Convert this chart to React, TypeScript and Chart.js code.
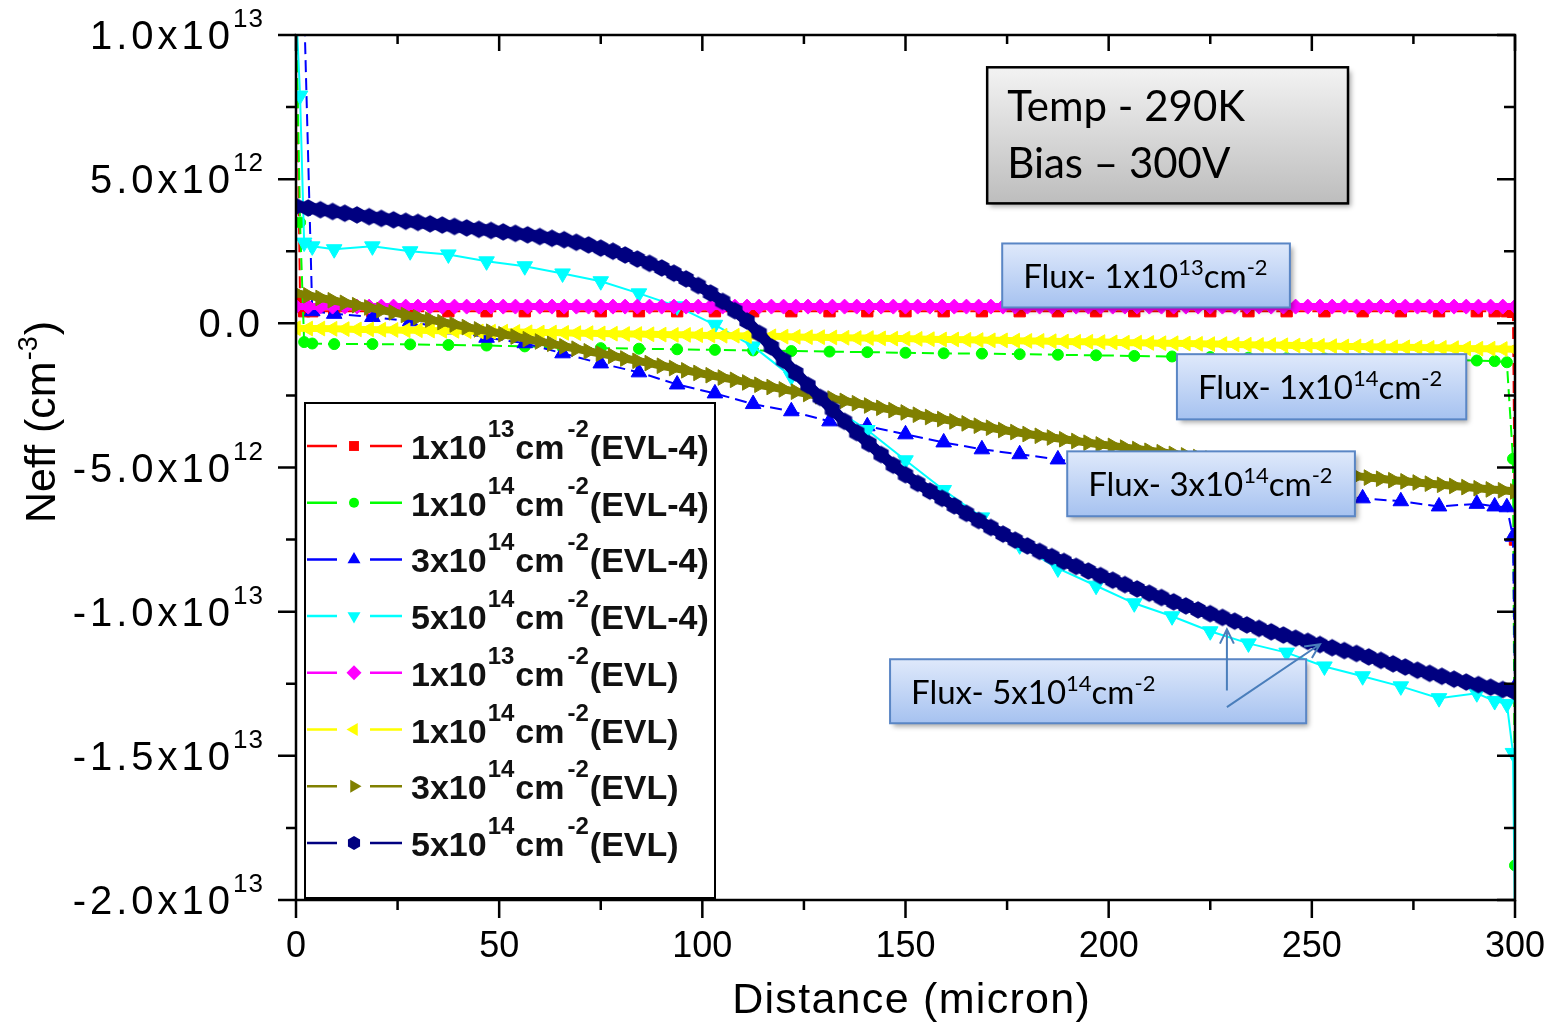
import React, { useEffect, useRef } from 'react';
import { Chart, registerables } from 'chart.js';

Chart.register(...registerables);

const WIDTH = 1555;
const HEIGHT = 1023;

// Neff values are stored in units of 1e12 cm^-3.

// Distance mesh (micron) of the EVL-4 simulations
const xEvl4 = [
  0, 1, 2, 4, 9.4, 18.8, 28.1, 37.5, 46.9, 56.3,
  65.6, 75, 84.4, 93.8, 103.1, 112.5, 121.9, 131.3, 140.6, 150,
  159.4, 168.8, 178.1, 187.5, 196.9, 206.3, 215.6, 225, 234.4, 243.8,
  253.1, 262.5, 271.9, 281.3, 290.6, 295, 298, 299.5, 300,
];

const neffEvl4Flux1e13 = [
  11, 0.8, 0.42, 0.42, 0.42, 0.42, 0.42, 0.42, 0.42, 0.42,
  0.42, 0.42, 0.42, 0.42, 0.42, 0.42, 0.42, 0.42, 0.42, 0.42,
  0.42, 0.42, 0.42, 0.42, 0.42, 0.42, 0.42, 0.42, 0.42, 0.42,
  0.42, 0.42, 0.42, 0.42, 0.42, 0.42, 0.42, 0.40, -7.5,
];

const neffEvl4Flux1e14 = [
  11, 3.5, -0.65, -0.70, -0.72, -0.72, -0.73, -0.75, -0.77, -0.80,
  -0.84, -0.86, -0.88, -0.90, -0.92, -0.94, -0.96, -0.98, -1.00, -1.02,
  -1.04, -1.05, -1.07, -1.09, -1.11, -1.13, -1.15, -1.17, -1.19, -1.21,
  -1.22, -1.24, -1.26, -1.27, -1.29, -1.31, -1.35, -4.7, -18.8,
];

const neffEvl4Flux3e14: (number | null)[] = [
  null, null, 11, 0.42, 0.33, 0.22, 0.07, -0.21, -0.50, -0.69,
  -1.04, -1.39, -1.70, -2.12, -2.43, -2.80, -3.05, -3.40, -3.57, -3.85,
  -4.13, -4.37, -4.54, -4.72, -4.90, -5.08, -5.26, -5.43, -5.60, -5.76,
  -5.92, -6.07, -6.17, -6.35, -6.26, -6.35, -6.38, -7.4, -12.6,
];

const neffEvl4Flux5e14 = [
  11, 7.9, 2.8, 2.67, 2.57, 2.67, 2.50, 2.39, 2.15, 1.98,
  1.73, 1.46, 1.04, 0.59, -0.05, -0.80, -1.84, -2.85, -3.70, -4.75,
  -5.78, -6.73, -7.70, -8.50, -9.10, -9.71, -10.16, -10.68, -11.10, -11.42,
  -11.90, -12.24, -12.59, -13.00, -12.83, -13.10, -13.20, -14.9, -21,
];

// Distance mesh (micron) of the EVL simulations
const xEvl = [
  0, 3, 6, 9, 12, 15, 18, 21, 24, 27,
  30, 33, 36, 39, 42, 45, 48, 51, 54, 57,
  60, 63, 66, 69, 72, 75, 78, 81, 84, 87,
  90, 93, 96, 99, 102, 105, 108, 111, 114, 117,
  120, 123, 126, 129, 132, 135, 138, 141, 144, 147,
  150, 153, 156, 159, 162, 165, 168, 171, 174, 177,
  180, 183, 186, 189, 192, 195, 198, 201, 204, 207,
  210, 213, 216, 219, 222, 225, 228, 231, 234, 237,
  240, 243, 246, 249, 252, 255, 258, 261, 264, 267,
  270, 273, 276, 279, 282, 285, 288, 291, 294, 297,
  300,
];

const neffEvlFlux1e13 = [
  0.58, 0.58, 0.58, 0.58, 0.58, 0.58, 0.58, 0.58, 0.58, 0.58,
  0.58, 0.58, 0.58, 0.58, 0.58, 0.58, 0.58, 0.58, 0.58, 0.58,
  0.58, 0.58, 0.58, 0.58, 0.58, 0.58, 0.58, 0.58, 0.58, 0.58,
  0.58, 0.58, 0.58, 0.58, 0.58, 0.58, 0.58, 0.58, 0.58, 0.58,
  0.58, 0.58, 0.58, 0.58, 0.58, 0.58, 0.58, 0.58, 0.58, 0.58,
  0.58, 0.58, 0.58, 0.58, 0.58, 0.58, 0.58, 0.58, 0.58, 0.58,
  0.58, 0.58, 0.58, 0.58, 0.58, 0.58, 0.58, 0.58, 0.58, 0.58,
  0.58, 0.58, 0.58, 0.58, 0.58, 0.58, 0.58, 0.58, 0.58, 0.58,
  0.58, 0.58, 0.58, 0.58, 0.58, 0.58, 0.58, 0.58, 0.58, 0.58,
  0.58, 0.58, 0.58, 0.58, 0.58, 0.58, 0.58, 0.58, 0.58, 0.58,
  0.58,
];

const neffEvlFlux1e14 = [
  -0.17, -0.18, -0.18, -0.19, -0.20, -0.21, -0.21, -0.22, -0.23, -0.24,
  -0.24, -0.25, -0.26, -0.26, -0.27, -0.28, -0.29, -0.29, -0.30, -0.31,
  -0.32, -0.32, -0.33, -0.34, -0.34, -0.35, -0.36, -0.37, -0.37, -0.38,
  -0.39, -0.40, -0.40, -0.41, -0.42, -0.43, -0.43, -0.44, -0.45, -0.45,
  -0.46, -0.47, -0.48, -0.48, -0.49, -0.50, -0.51, -0.51, -0.52, -0.53,
  -0.53, -0.54, -0.55, -0.56, -0.56, -0.57, -0.58, -0.59, -0.59, -0.60,
  -0.61, -0.61, -0.62, -0.63, -0.64, -0.64, -0.65, -0.66, -0.67, -0.67,
  -0.68, -0.69, -0.69, -0.70, -0.71, -0.72, -0.72, -0.73, -0.74, -0.75,
  -0.75, -0.76, -0.77, -0.77, -0.78, -0.79, -0.80, -0.80, -0.81, -0.82,
  -0.83, -0.83, -0.84, -0.85, -0.85, -0.86, -0.87, -0.88, -0.88, -0.89,
  -0.90,
];

const neffEvlFlux3e14 = [
  1.05, 0.97, 0.88, 0.80, 0.71, 0.63, 0.55, 0.46, 0.38, 0.29,
  0.21, 0.13, 0.04, -0.04, -0.13, -0.21, -0.29, -0.38, -0.46, -0.55,
  -0.63, -0.71, -0.80, -0.88, -0.97, -1.05, -1.13, -1.22, -1.30, -1.38,
  -1.47, -1.55, -1.63, -1.72, -1.80, -1.88, -1.96, -2.05, -2.13, -2.21,
  -2.29, -2.37, -2.45, -2.53, -2.61, -2.69, -2.77, -2.85, -2.93, -3.01,
  -3.09, -3.17, -3.25, -3.32, -3.40, -3.47, -3.55, -3.62, -3.70, -3.77,
  -3.84, -3.90, -3.96, -4.02, -4.08, -4.14, -4.20, -4.25, -4.31, -4.36,
  -4.42, -4.47, -4.53, -4.58, -4.64, -4.69, -4.74, -4.80, -4.85, -4.90,
  -4.95, -5.01, -5.06, -5.11, -5.16, -5.21, -5.26, -5.30, -5.35, -5.39,
  -5.44, -5.48, -5.52, -5.56, -5.60, -5.64, -5.68, -5.72, -5.76, -5.79,
  -5.83,
];

const neffEvlFlux5e14 = [
  4.06, 4.00, 3.94, 3.88, 3.82, 3.76, 3.70, 3.64, 3.59, 3.54,
  3.50, 3.45, 3.41, 3.36, 3.31, 3.26, 3.22, 3.17, 3.12, 3.07,
  3.01, 2.95, 2.90, 2.81, 2.72, 2.61, 2.50, 2.37, 2.23, 2.08,
  1.92, 1.74, 1.54, 1.31, 1.05, 0.76, 0.44, 0.08, -0.35, -0.82,
  -1.28, -1.72, -2.15, -2.57, -2.99, -3.40, -3.79, -4.17, -4.55, -4.92,
  -5.25, -5.55, -5.82, -6.07, -6.33, -6.59, -6.84, -7.08, -7.31, -7.52,
  -7.72, -7.91, -8.09, -8.26, -8.43, -8.59, -8.75, -8.91, -9.06, -9.21,
  -9.36, -9.51, -9.66, -9.80, -9.94, -10.07, -10.20, -10.33, -10.46, -10.58,
  -10.70, -10.81, -10.92, -11.03, -11.14, -11.25, -11.35, -11.45, -11.57, -11.69,
  -11.81, -11.92, -12.03, -12.14, -12.24, -12.34, -12.44, -12.53, -12.62, -12.70,
  -12.78,
];

// Legend text pieces: fluence mantissa, exponent, model
const fluenceBases = ['1x10', '1x10', '3x10', '5x10', '1x10', '1x10', '3x10', '5x10'];
const fluenceExps = ['13', '14', '14', '14', '13', '14', '14', '14'];
const modelNames = ['EVL-4', 'EVL-4', 'EVL-4', 'EVL-4', 'EVL', 'EVL', 'EVL', 'EVL'];

// Axis ticks
const xMajorTicks = [0, 50, 100, 150, 200, 250, 300];
const xMinorTicks = [25, 75, 125, 175, 225, 275];
const yMajorTicks = [10, 5, 0, -5, -10, -15, -20];
const yMinorTicks = [7.5, 2.5, -2.5, -7.5, -12.5, -17.5];
const yTickMantissas = ['1.0x10', '5.0x10', '0.0', '-5.0x10', '-1.0x10', '-1.5x10', '-2.0x10'];
const yTickExponents = ['13', '12', '', '12', '13', '13', '13'];

// Text boxes placed in data coordinates
const conditionLines = ['Temp - 290K', 'Bias \u2013 300V'];
const conditionBox = { x0: 170.1, x1: 258.9, y0: 8.88, y1: 4.16 };
const fluxNotes = [
  { base: '1x10', exp: '13', x0: 173.8, x1: 244.6, y0: 2.77, y1: 0.55 },
  { base: '1x10', exp: '14', x0: 216.8, x1: 288.0, y0: -1.07, y1: -3.33 },
  { base: '3x10', exp: '14', x0: 189.8, x1: 260.6, y0: -4.44, y1: -6.69 },
  { base: '5x10', exp: '14', x0: 146.2, x1: 248.6, y0: -11.65, y1: -13.87 },
];
const fluxArrows = [
  { from: [229.1, -12.73], to: [229.1, -10.61] },
  { from: [229.1, -13.31], to: [252.0, -11.13] },
];

const AXIS_FONT = '"Liberation Sans", Arial, sans-serif';
const NOTE_FONT = 'Lato, "Open Sans", sans-serif';

type Marker = 'rect' | 'circle' | 'triangle' | 'rectRot' | 'hex';

interface SeriesDef {
  xs: number[];
  ys: (number | null)[];
  color: string;
  marker: Marker;
  rotation: number;
  radius: number;
  lineWidth: number;
  dashed: boolean;
  order: number;
}

const SERIES: SeriesDef[] = [
  { xs: xEvl4, ys: neffEvl4Flux1e13, color: '#ff0000', marker: 'rect', rotation: 0, radius: 8, lineWidth: 2, dashed: true, order: 8 },
  { xs: xEvl4, ys: neffEvl4Flux1e14, color: '#00ff00', marker: 'circle', rotation: 0, radius: 5.5, lineWidth: 2, dashed: true, order: 7 },
  { xs: xEvl4, ys: neffEvl4Flux3e14, color: '#0000ff', marker: 'triangle', rotation: 0, radius: 9, lineWidth: 2, dashed: true, order: 6 },
  { xs: xEvl4, ys: neffEvl4Flux5e14, color: '#00ffff', marker: 'triangle', rotation: 180, radius: 9, lineWidth: 2, dashed: false, order: 5 },
  { xs: xEvl, ys: neffEvlFlux1e13, color: '#ff00ff', marker: 'rectRot', rotation: 0, radius: 7.5, lineWidth: 7, dashed: false, order: 4 },
  { xs: xEvl, ys: neffEvlFlux1e14, color: '#ffff00', marker: 'triangle', rotation: -90, radius: 8.5, lineWidth: 7, dashed: false, order: 3 },
  { xs: xEvl, ys: neffEvlFlux3e14, color: '#808000', marker: 'triangle', rotation: 90, radius: 9, lineWidth: 8, dashed: false, order: 2 },
  { xs: xEvl, ys: neffEvlFlux5e14, color: '#000080', marker: 'hex', rotation: 0, radius: 8.5, lineWidth: 11, dashed: false, order: 1 },
];

function shapePath(ctx: CanvasRenderingContext2D, marker: Marker, cx: number, cy: number, r: number, rotation: number) {
  ctx.save();
  ctx.translate(cx, cy);
  ctx.rotate((rotation * Math.PI) / 180);
  ctx.beginPath();
  if (marker === 'rect') {
    const s = r * Math.SQRT1_2;
    ctx.rect(-s, -s, 2 * s, 2 * s);
  } else if (marker === 'circle') {
    ctx.arc(0, 0, r, 0, Math.PI * 2);
  } else if (marker === 'triangle') {
    ctx.moveTo(0, -r);
    ctx.lineTo(r * 0.866, r * 0.5);
    ctx.lineTo(-r * 0.866, r * 0.5);
    ctx.closePath();
  } else if (marker === 'rectRot') {
    ctx.moveTo(0, -r);
    ctx.lineTo(r, 0);
    ctx.lineTo(0, r);
    ctx.lineTo(-r, 0);
    ctx.closePath();
  } else {
    for (let k = 0; k < 6; k++) {
      const a = -Math.PI / 2 + (k * Math.PI) / 3;
      if (k === 0) ctx.moveTo(r * Math.cos(a), r * Math.sin(a));
      else ctx.lineTo(r * Math.cos(a), r * Math.sin(a));
    }
    ctx.closePath();
  }
  ctx.restore();
}

function spacedWidth(ctx: CanvasRenderingContext2D, text: string, font: string, spacing = 0) {
  ctx.font = font;
  if (!spacing) return ctx.measureText(text).width;
  let w = 0;
  for (const ch of text) w += ctx.measureText(ch).width + spacing;
  return w - spacing;
}

function spacedText(ctx: CanvasRenderingContext2D, text: string, x: number, y: number, font: string, spacing = 0) {
  ctx.font = font;
  if (!spacing) {
    ctx.fillText(text, x, y);
    return ctx.measureText(text).width;
  }
  let cx = x;
  for (const ch of text) {
    ctx.fillText(ch, cx, y);
    cx += ctx.measureText(ch).width + spacing;
  }
  return cx - x - spacing;
}

function panel(ctx: CanvasRenderingContext2D, x0: number, y0: number, x1: number, y1: number, top: string, bottom: string, border: string, bw: number) {
  ctx.save();
  ctx.shadowColor = 'rgba(0,0,0,0.35)';
  ctx.shadowBlur = 5;
  ctx.shadowOffsetX = 3;
  ctx.shadowOffsetY = 4;
  const g = ctx.createLinearGradient(0, y0, 0, y1);
  g.addColorStop(0, top);
  g.addColorStop(1, bottom);
  ctx.fillStyle = g;
  ctx.fillRect(x0, y0, x1 - x0, y1 - y0);
  ctx.restore();
  ctx.save();
  ctx.strokeStyle = border;
  ctx.lineWidth = bw;
  ctx.strokeRect(x0, y0, x1 - x0, y1 - y0);
  ctx.restore();
}

const overlayPlugin = {
  id: 'neffOverlay',
  afterDatasetsDraw(chart: any) {
    const ctx: CanvasRenderingContext2D = chart.ctx;
    const a = chart.chartArea;
    const xs = chart.scales.x;
    const ys = chart.scales.y;
    ctx.save();
    ctx.textAlign = 'left';
    ctx.textBaseline = 'alphabetic';

    // Legend box
    const leg = { left: 305, top: 403, right: 715, bottom: 898 };
    ctx.fillStyle = '#ffffff';
    ctx.fillRect(leg.left, leg.top, leg.right - leg.left, leg.bottom - leg.top);
    ctx.strokeStyle = '#000';
    ctx.lineWidth = 2;
    ctx.strokeRect(leg.left, leg.top, leg.right - leg.left, leg.bottom - leg.top);
    const bold = `bold 34px ${AXIS_FONT}`;
    const boldSup = `bold 24px ${AXIS_FONT}`;
    SERIES.forEach((s, i) => {
      const ry = 446 + i * 56.7;
      ctx.strokeStyle = s.color;
      ctx.lineWidth = 2.5;
      ctx.beginPath();
      ctx.moveTo(307, ry);
      ctx.lineTo(337, ry);
      ctx.moveTo(370, ry);
      ctx.lineTo(402, ry);
      ctx.stroke();
      ctx.fillStyle = s.color;
      const lr = s.marker === 'circle' ? 5 : s.marker === 'rect' ? 7 : s.marker === 'hex' ? 7 : 7.5;
      shapePath(ctx, s.marker, 354, ry, lr, s.rotation);
      ctx.fill();
      ctx.fillStyle = '#111';
      let x = 411;
      x += spacedText(ctx, fluenceBases[i], x, ry + 13, bold) + 1;
      x += spacedText(ctx, fluenceExps[i], x, ry - 9, boldSup) + 1;
      x += spacedText(ctx, 'cm', x, ry + 13, bold) + 3;
      x += spacedText(ctx, '-2', x, ry - 9, boldSup) + 1;
      spacedText(ctx, `(${modelNames[i]})`, x, ry + 13, bold);
    });

    // Frame
    ctx.strokeStyle = '#000';
    ctx.lineWidth = 2.5;
    ctx.strokeRect(a.left, a.top, a.right - a.left, a.bottom - a.top);
    ctx.beginPath();
    const tick = (px: number, py: number, dx: number, dy: number) => {
      ctx.moveTo(px, py);
      ctx.lineTo(px + dx, py + dy);
    };
    yMajorTicks.forEach((v) => {
      const py = ys.getPixelForValue(v);
      tick(a.left, py, -18, 0);
      tick(a.right, py, -18, 0);
    });
    yMinorTicks.forEach((v) => {
      const py = ys.getPixelForValue(v);
      tick(a.left, py, -10, 0);
      tick(a.right, py, -11, 0);
    });
    xMajorTicks.forEach((v) => {
      const px = xs.getPixelForValue(v);
      tick(px, a.bottom, 0, 18);
      tick(px, a.top, 0, 16);
    });
    xMinorTicks.forEach((v) => {
      const px = xs.getPixelForValue(v);
      tick(px, a.bottom, 0, 10);
      tick(px, a.top, 0, 9);
    });
    ctx.stroke();

    // Tick labels
    ctx.fillStyle = '#000';
    const tickFont = `40px ${AXIS_FONT}`;
    const supFont = `26px ${AXIS_FONT}`;
    yMajorTicks.forEach((v, i) => {
      const py = ys.getPixelForValue(v);
      const main = yTickMantissas[i];
      const exp = yTickExponents[i];
      if (exp) {
        const supW = spacedWidth(ctx, exp, supFont, 1);
        const mainW = spacedWidth(ctx, main, tickFont, 4);
        const supX = 263 - supW;
        spacedText(ctx, main, supX - 3 - mainW, py + 14, tickFont, 4);
        spacedText(ctx, exp, supX, py - 8, supFont, 1);
      } else {
        const mainW = spacedWidth(ctx, main, tickFont, 3);
        spacedText(ctx, main, 260 - mainW, py + 14, tickFont, 3);
      }
    });
    const xTickFont = `36px ${AXIS_FONT}`;
    xMajorTicks.forEach((v) => {
      const px = xs.getPixelForValue(v);
      const w = spacedWidth(ctx, String(v), xTickFont);
      spacedText(ctx, String(v), px - w / 2, 957, xTickFont);
    });

    // Axis titles
    const titleFont = `43px ${AXIS_FONT}`;
    const xTitle = 'Distance (micron)';
    const xtw = spacedWidth(ctx, xTitle, titleFont, 1.3);
    spacedText(ctx, xTitle, 911 - xtw / 2, 1013, titleFont, 1.3);

    ctx.save();
    ctx.translate(55, 422);
    ctx.rotate(-Math.PI / 2);
    const ySup = `27px ${AXIS_FONT}`;
    const w1 = spacedWidth(ctx, 'Neff (cm', titleFont);
    const w2 = spacedWidth(ctx, '-3', ySup);
    const w3 = spacedWidth(ctx, ')', titleFont);
    let tx = -(w1 + w2 + w3 + 2) / 2;
    tx += spacedText(ctx, 'Neff (cm', tx, 0, titleFont) + 1;
    tx += spacedText(ctx, '-3', tx, -18, ySup) + 1;
    spacedText(ctx, ')', tx, 0, titleFont);
    ctx.restore();

    // Simulation conditions
    const cx0 = xs.getPixelForValue(conditionBox.x0);
    const cx1 = xs.getPixelForValue(conditionBox.x1);
    const cy0 = ys.getPixelForValue(conditionBox.y0);
    const cy1 = ys.getPixelForValue(conditionBox.y1);
    panel(ctx, cx0, cy0, cx1, cy1, '#f3f3f3', '#bdbdbd', '#000', 2.5);
    ctx.fillStyle = '#000';
    const condFont = `42px ${NOTE_FONT}`;
    conditionLines.forEach((line, i) => {
      spacedText(ctx, line, cx0 + 20, cy0 + 54 + i * 57, condFont);
    });

    // Fluence notes
    const noteFont = `33px ${NOTE_FONT}`;
    const noteSup = `22px ${NOTE_FONT}`;
    fluxNotes.forEach((n) => {
      const x0 = xs.getPixelForValue(n.x0);
      const x1 = xs.getPixelForValue(n.x1);
      const y0 = ys.getPixelForValue(n.y0);
      const y1 = ys.getPixelForValue(n.y1);
      panel(ctx, x0, y0, x1, y1, '#dfe9fb', '#a6c2f0', '#5a86c5', 2);
      ctx.fillStyle = '#000';
      let x = x0 + 21;
      const base = y0 + 45;
      x += spacedText(ctx, `Flux- ${n.base}`, x, base, noteFont);
      x += spacedText(ctx, n.exp, x, base - 13, noteSup);
      x += spacedText(ctx, 'cm', x, base, noteFont);
      spacedText(ctx, '-2', x, base - 13, noteSup);
    });

    ctx.strokeStyle = '#4a7ebb';
    ctx.lineWidth = 2;
    fluxArrows.forEach((ar) => {
      const px0 = xs.getPixelForValue(ar.from[0]);
      const py0 = ys.getPixelForValue(ar.from[1]);
      const px1 = xs.getPixelForValue(ar.to[0]);
      const py1 = ys.getPixelForValue(ar.to[1]);
      const ang = Math.atan2(py1 - py0, px1 - px0);
      ctx.beginPath();
      ctx.moveTo(px0, py0);
      ctx.lineTo(px1, py1);
      const hl = 16;
      ctx.moveTo(px1 - hl * Math.cos(ang - 0.45), py1 - hl * Math.sin(ang - 0.45));
      ctx.lineTo(px1, py1);
      ctx.lineTo(px1 - hl * Math.cos(ang + 0.45), py1 - hl * Math.sin(ang + 0.45));
      ctx.stroke();
    });

    ctx.restore();
  },
};

export default function App() {
  const canvasRef = useRef<HTMLCanvasElement | null>(null);

  useEffect(() => {
    const canvas = canvasRef.current;
    if (!canvas) return;

    const hex = document.createElement('canvas');
    hex.width = 20;
    hex.height = 20;
    const hctx = hex.getContext('2d')!;
    hctx.fillStyle = '#000080';
    shapePath(hctx, 'hex', 10, 10, 8.8, 0);
    hctx.fill();

    const datasets = SERIES.map((s, i) => ({
      label: `${fluenceBases[i]}^${fluenceExps[i]} cm^-2 (${modelNames[i]})`,
      data: s.xs.map((x, j) => ({ x, y: s.ys[j] })),
      borderColor: s.color,
      backgroundColor: s.color,
      pointBackgroundColor: s.color,
      pointBorderColor: s.color,
      pointBorderWidth: 1,
      borderWidth: s.lineWidth,
      borderDash: s.dashed ? [12, 6] : [],
      pointStyle: s.marker === 'hex' ? hex : s.marker,
      pointRotation: s.rotation,
      pointRadius: s.radius,
      spanGaps: true,
      tension: 0,
      fill: false,
      clip: 0,
      order: s.order,
    }));

    const chart = new Chart(canvas, {
      type: 'line',
      data: { datasets } as any,
      options: {
        responsive: false,
        animation: false,
        events: [],
        layout: { padding: { left: 296, right: WIDTH - 1515, top: 35, bottom: HEIGHT - 900 } },
        plugins: { legend: { display: false }, tooltip: { enabled: false } },
        scales: {
          x: { type: 'linear', min: 0, max: 300, display: false },
          y: { type: 'linear', min: -20, max: 10, display: false },
        },
      },
      plugins: [overlayPlugin],
    });

    return () => chart.destroy();
  }, []);

  return (
    <div style={{ position: 'fixed', left: 0, top: 0, width: WIDTH, height: HEIGHT, background: '#ffffff' }}>
      <canvas ref={canvasRef} width={WIDTH} height={HEIGHT} style={{ display: 'block' }} />
    </div>
  );
}
